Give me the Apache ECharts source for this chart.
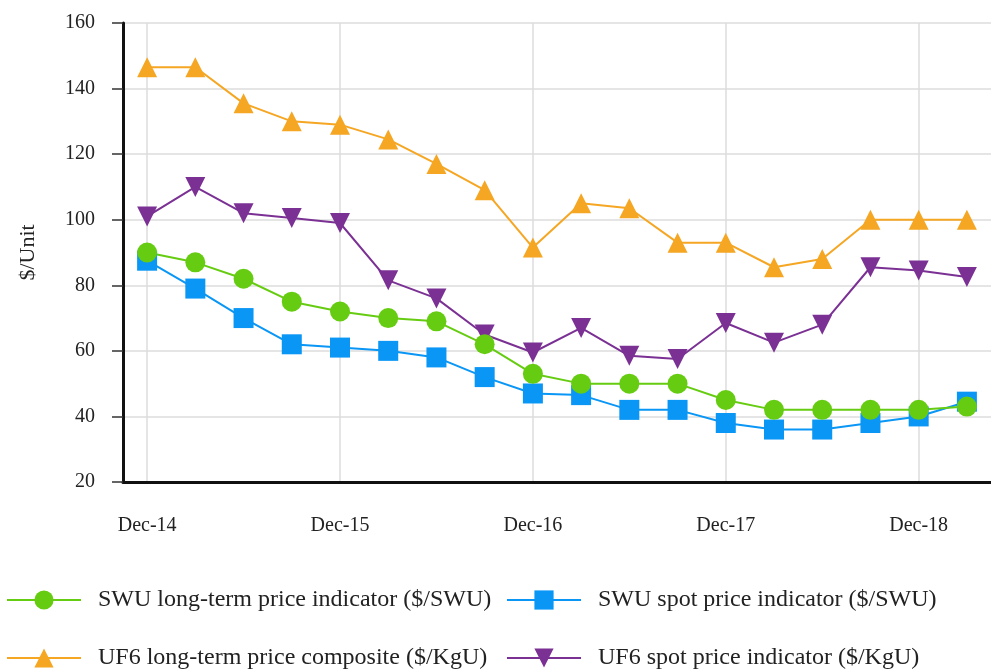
<!DOCTYPE html>
<html>
<head>
<meta charset="utf-8">
<script src="https://cdn.jsdelivr.net/npm/echarts@6/dist/echarts.min.js"></script>
<style>
  html, body { margin: 0; padding: 0; background: #fff; }
  #chart { width: 991px; height: 670px; }
</style>
</head>
<body>
<div id="chart"></div>
<script>
var quarters = ['Dec-14', 'Mar-15', 'Jun-15', 'Sep-15', 'Dec-15', 'Mar-16', 'Jun-16', 'Sep-16',
    'Dec-16', 'Mar-17', 'Jun-17', 'Sep-17', 'Dec-17', 'Mar-18', 'Jun-18', 'Sep-18', 'Dec-18', 'Mar-19']

var swuLongTerm = [90, 87, 82, 75, 72, 70, 69, 62, 53, 50, 50, 50, 45, 42, 42, 42, 42, 43]
var swuSpot = [87.5, 79, 70, 62, 61, 60, 58, 52, 47, 46.5, 42, 42, 38, 36, 36, 38, 40, 44.5]
var uf6LongTerm = [146.5, 146.5, 135.5, 130, 129, 124.5, 117, 109, 91.5, 105, 103.5, 93, 93, 85.5, 88, 100, 100, 100]
var uf6Spot = [101, 110, 102, 100.5, 99, 81.5, 76, 65, 59.5, 67, 58.5, 57.5, 68.5, 62.5, 68, 85.5, 84.5, 82.5]

var yTicks = [20, 160, 20] // min, max, step

var names = {
    swuLong: 'SWU long-term price indicator ($/SWU)',
    swuSpot: 'SWU spot price indicator ($/SWU)',
    uf6Long: 'UF6 long-term price composite ($/KgU)',
    uf6Spot: 'UF6 spot price indicator ($/KgU)'
}

var serif = "'Liberation Serif', 'DejaVu Serif', serif"

function lineSeries(name, data, color, symbol) {
    return {
        name: name,
        type: 'line',
        data: data,
        symbol: symbol,
        symbolSize: 20,
        showAllSymbol: true,
        lineStyle: { color: color, width: 2 },
        itemStyle: { color: color },
        emphasis: { disabled: true }
    }
}

// one legend per item so the 2x2 layout is fixed
function legendAt(name, left, top) {
    return {
        data: [name],
        left: left,
        top: top,
        itemWidth: 74,
        itemHeight: 24,
        textStyle: { fontFamily: serif, fontSize: 24, color: '#222', padding: [0, 0, 0, 12] }
    }
}

var chart = echarts.init(document.getElementById('chart'))

chart.setOption({
    animation: false,
    grid: { left: 123, right: -10, top: 23, bottom: 188 },
    legend: [
        legendAt(names.swuLong, 1, 583),
        legendAt(names.uf6Long, 1, 641),
        legendAt(names.swuSpot, 501, 583),
        legendAt(names.uf6Spot, 501, 641)
    ],
    xAxis: {
        type: 'category',
        data: quarters,
        boundaryGap: true,
        axisLine: { lineStyle: { color: '#111', width: 3 } },
        axisTick: { alignWithLabel: true, interval: 3, length: 11, lineStyle: { color: '#333', width: 1.5 } },
        axisLabel: { interval: 3, margin: 34, fontFamily: serif, fontSize: 20, color: '#222' },
        splitLine: { show: true, alignWithLabel: true, interval: 3, lineStyle: { color: '#ddd', width: 1.5 } }
    },
    yAxis: {
        type: 'value',
        min: yTicks[0],
        max: yTicks[1],
        interval: yTicks[2],
        name: '$/Unit',
        nameLocation: 'middle',
        nameRotate: 90,
        nameGap: 84,
        nameTextStyle: { fontFamily: serif, fontSize: 22, color: '#222' },
        axisLine: { show: true, lineStyle: { color: '#111', width: 3 } },
        axisTick: { show: true, length: 11, lineStyle: { color: '#333', width: 1.5 } },
        axisLabel: { margin: 28, fontFamily: serif, fontSize: 20, color: '#222' },
        splitLine: { show: true, lineStyle: { color: '#ddd', width: 1.5 } }
    },
    series: [
        lineSeries(names.uf6Long, uf6LongTerm, '#F5A623', 'triangle'),
        lineSeries(names.uf6Spot, uf6Spot, '#7B3194', 'path://M0,0 L10,0 L5,9 Z'),
        lineSeries(names.swuSpot, swuSpot, '#0A96F5', 'rect'),
        lineSeries(names.swuLong, swuLongTerm, '#66CC11', 'circle')
    ]
})
</script>
</body>
</html>
